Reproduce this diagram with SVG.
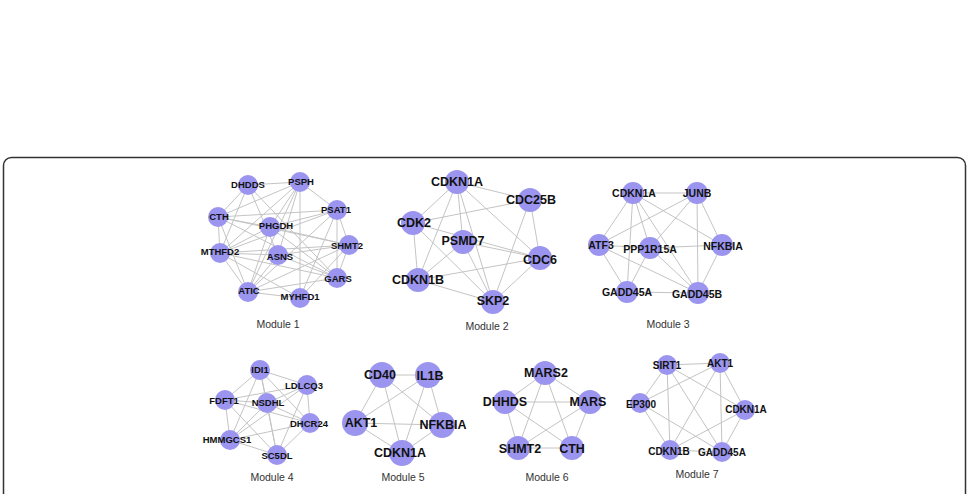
<svg xmlns="http://www.w3.org/2000/svg" width="977" height="494" viewBox="0 0 977 494">
<style>
.frame{fill:#fff;stroke:#333;stroke-width:1.5}
.e line{stroke:#c4c4c4;stroke-width:1}
.n circle{fill:#9b95f0}
.n text{font-family:"Liberation Sans",Arial,sans-serif;font-weight:bold;fill:#111;text-anchor:middle}
.m1 text,.m4 text{font-size:9.5px}
.m7 text{font-size:10px}
.m3 text{font-size:10.5px}
.m2 text,.m5 text,.m6 text{font-size:12.5px}
.lbl{font-family:"Liberation Sans",Arial,sans-serif;font-size:10.5px;fill:#333;text-anchor:middle}
</style>
<rect width="977" height="494" fill="#fff"/>
<rect class="frame" x="3.5" y="157.5" width="962" height="400" rx="8"/>
<g id="connectors" class="e">
<!-- Module 1 -->
<line x1="248" y1="185" x2="300" y2="182"/>
<line x1="248" y1="185" x2="218" y2="217"/>
<line x1="248" y1="185" x2="278" y2="255"/>
<line x1="248" y1="185" x2="337" y2="278"/>
<line x1="248" y1="185" x2="220" y2="253"/>
<line x1="300" y1="182" x2="218" y2="217"/>
<line x1="300" y1="182" x2="337" y2="210"/>
<line x1="300" y1="182" x2="270" y2="227"/>
<line x1="300" y1="182" x2="220" y2="253"/>
<line x1="300" y1="182" x2="248" y2="292"/>
<line x1="300" y1="182" x2="300" y2="298"/>
<line x1="300" y1="182" x2="278" y2="255"/>
<line x1="218" y1="217" x2="337" y2="210"/>
<line x1="218" y1="217" x2="349" y2="245"/>
<line x1="218" y1="217" x2="220" y2="253"/>
<line x1="218" y1="217" x2="337" y2="278"/>
<line x1="218" y1="217" x2="248" y2="292"/>
<line x1="218" y1="217" x2="270" y2="227"/>
<line x1="337" y1="210" x2="270" y2="227"/>
<line x1="337" y1="210" x2="220" y2="253"/>
<line x1="337" y1="210" x2="349" y2="245"/>
<line x1="337" y1="210" x2="337" y2="278"/>
<line x1="337" y1="210" x2="248" y2="292"/>
<line x1="337" y1="210" x2="300" y2="298"/>
<line x1="270" y1="227" x2="349" y2="245"/>
<line x1="270" y1="227" x2="337" y2="278"/>
<line x1="270" y1="227" x2="248" y2="292"/>
<line x1="270" y1="227" x2="220" y2="253"/>
<line x1="220" y1="253" x2="349" y2="245"/>
<line x1="220" y1="253" x2="337" y2="278"/>
<line x1="220" y1="253" x2="248" y2="292"/>
<line x1="220" y1="253" x2="300" y2="298"/>
<line x1="220" y1="253" x2="278" y2="255"/>
<line x1="278" y1="255" x2="349" y2="245"/>
<line x1="278" y1="255" x2="248" y2="292"/>
<line x1="278" y1="255" x2="337" y2="278"/>
<line x1="349" y1="245" x2="337" y2="278"/>
<line x1="349" y1="245" x2="248" y2="292"/>
<line x1="349" y1="245" x2="300" y2="298"/>
<line x1="248" y1="292" x2="300" y2="298"/>
<line x1="248" y1="292" x2="337" y2="278"/>
<!-- Module 2 -->
<line x1="457" y1="182" x2="530" y2="200"/>
<line x1="457" y1="182" x2="413" y2="223"/>
<line x1="457" y1="182" x2="418" y2="280"/>
<line x1="457" y1="182" x2="463" y2="242"/>
<line x1="457" y1="182" x2="493" y2="302"/>
<line x1="457" y1="182" x2="540" y2="258"/>
<line x1="530" y1="200" x2="413" y2="223"/>
<line x1="530" y1="200" x2="540" y2="258"/>
<line x1="530" y1="200" x2="493" y2="302"/>
<line x1="413" y1="223" x2="540" y2="258"/>
<line x1="413" y1="223" x2="418" y2="280"/>
<line x1="413" y1="223" x2="493" y2="302"/>
<line x1="463" y1="242" x2="540" y2="258"/>
<line x1="463" y1="242" x2="418" y2="280"/>
<line x1="463" y1="242" x2="493" y2="302"/>
<line x1="540" y1="258" x2="418" y2="280"/>
<line x1="540" y1="258" x2="493" y2="302"/>
<line x1="418" y1="280" x2="493" y2="302"/>
<!-- Module 3 -->
<line x1="633" y1="193" x2="697" y2="193"/>
<line x1="633" y1="193" x2="598" y2="245"/>
<line x1="633" y1="193" x2="650" y2="248"/>
<line x1="633" y1="193" x2="627" y2="292"/>
<line x1="633" y1="193" x2="698" y2="293"/>
<line x1="633" y1="193" x2="722" y2="245"/>
<line x1="697" y1="193" x2="598" y2="245"/>
<line x1="697" y1="193" x2="650" y2="248"/>
<line x1="697" y1="193" x2="722" y2="245"/>
<line x1="697" y1="193" x2="698" y2="293"/>
<line x1="598" y1="245" x2="650" y2="248"/>
<line x1="598" y1="245" x2="627" y2="292"/>
<line x1="598" y1="245" x2="698" y2="293"/>
<line x1="650" y1="248" x2="722" y2="245"/>
<line x1="650" y1="248" x2="627" y2="292"/>
<line x1="650" y1="248" x2="698" y2="293"/>
<line x1="722" y1="245" x2="698" y2="293"/>
<line x1="627" y1="292" x2="698" y2="293"/>
<!-- Module 4 -->
<line x1="260" y1="370" x2="307" y2="385"/>
<line x1="260" y1="370" x2="225" y2="400"/>
<line x1="260" y1="370" x2="267" y2="403"/>
<line x1="260" y1="370" x2="310" y2="423"/>
<line x1="260" y1="370" x2="230" y2="440"/>
<line x1="260" y1="370" x2="277" y2="455"/>
<line x1="307" y1="385" x2="225" y2="400"/>
<line x1="307" y1="385" x2="267" y2="403"/>
<line x1="307" y1="385" x2="230" y2="440"/>
<line x1="307" y1="385" x2="277" y2="455"/>
<line x1="307" y1="385" x2="310" y2="423"/>
<line x1="225" y1="400" x2="267" y2="403"/>
<line x1="225" y1="400" x2="310" y2="423"/>
<line x1="225" y1="400" x2="230" y2="440"/>
<line x1="225" y1="400" x2="277" y2="455"/>
<line x1="267" y1="403" x2="310" y2="423"/>
<line x1="267" y1="403" x2="230" y2="440"/>
<line x1="267" y1="403" x2="277" y2="455"/>
<line x1="310" y1="423" x2="230" y2="440"/>
<line x1="310" y1="423" x2="277" y2="455"/>
<line x1="230" y1="440" x2="277" y2="455"/>
<!-- Module 5 -->
<line x1="382" y1="375" x2="428" y2="375"/>
<line x1="382" y1="375" x2="355" y2="423"/>
<line x1="382" y1="375" x2="442" y2="425"/>
<line x1="382" y1="375" x2="402" y2="453"/>
<line x1="428" y1="375" x2="355" y2="423"/>
<line x1="428" y1="375" x2="442" y2="425"/>
<line x1="428" y1="375" x2="402" y2="453"/>
<line x1="355" y1="423" x2="442" y2="425"/>
<line x1="355" y1="423" x2="402" y2="453"/>
<line x1="442" y1="425" x2="402" y2="453"/>
<!-- Module 6 -->
<line x1="545" y1="373" x2="505" y2="402"/>
<line x1="545" y1="373" x2="590" y2="402"/>
<line x1="545" y1="373" x2="518" y2="448"/>
<line x1="545" y1="373" x2="572" y2="448"/>
<line x1="505" y1="402" x2="590" y2="402"/>
<line x1="505" y1="402" x2="518" y2="448"/>
<line x1="505" y1="402" x2="572" y2="448"/>
<line x1="590" y1="402" x2="518" y2="448"/>
<line x1="590" y1="402" x2="572" y2="448"/>
<line x1="518" y1="448" x2="572" y2="448"/>
<!-- Module 7 -->
<line x1="667" y1="365" x2="720" y2="363"/>
<line x1="667" y1="365" x2="745" y2="410"/>
<line x1="667" y1="365" x2="670" y2="450"/>
<line x1="667" y1="365" x2="722" y2="452"/>
<line x1="667" y1="365" x2="640" y2="403"/>
<line x1="720" y1="363" x2="640" y2="403"/>
<line x1="720" y1="363" x2="670" y2="450"/>
<line x1="720" y1="363" x2="722" y2="452"/>
<line x1="720" y1="363" x2="745" y2="410"/>
<line x1="640" y1="403" x2="670" y2="450"/>
<line x1="640" y1="403" x2="722" y2="452"/>
<line x1="745" y1="410" x2="670" y2="450"/>
<line x1="745" y1="410" x2="722" y2="452"/>
<line x1="670" y1="450" x2="722" y2="452"/>
</g>
<!-- Module 1 nodes -->
<g class="n m1">
<g id="m1-DHDDS"><circle cx="248" cy="185" r="10"/><text x="248" y="185" dy="0.35em">DHDDS</text></g>
<g id="m1-PSPH"><circle cx="300" cy="182" r="10"/><text x="301" y="182" dy="0.35em">PSPH</text></g>
<g id="m1-CTH"><circle cx="218" cy="217" r="10"/><text x="219" y="217" dy="0.35em">CTH</text></g>
<g id="m1-PSAT1"><circle cx="337" cy="210" r="10"/><text x="336" y="210" dy="0.35em">PSAT1</text></g>
<g id="m1-PHGDH"><circle cx="270" cy="227" r="10"/><text x="276" y="226" dy="0.35em">PHGDH</text></g>
<g id="m1-SHMT2"><circle cx="349" cy="245" r="10"/><text x="347" y="246" dy="0.35em">SHMT2</text></g>
<g id="m1-MTHFD2"><circle cx="220" cy="253" r="10"/><text x="220" y="252" dy="0.35em">MTHFD2</text></g>
<g id="m1-ASNS"><circle cx="278" cy="255" r="10"/><text x="280" y="257" dy="0.35em">ASNS</text></g>
<g id="m1-GARS"><circle cx="337" cy="278" r="10"/><text x="338" y="279" dy="0.35em">GARS</text></g>
<g id="m1-ATIC"><circle cx="248" cy="292" r="10"/><text x="249" y="291" dy="0.35em">ATIC</text></g>
<g id="m1-MYHFD1"><circle cx="300" cy="298" r="10"/><text x="300" y="297" dy="0.35em">MYHFD1</text></g>
</g>
<text class="lbl" x="278" y="328">Module 1</text>
<!-- Module 2 nodes -->
<g class="n m2">
<g id="m2-CDKN1A"><circle cx="457" cy="182" r="12"/><text x="457" y="182" dy="0.35em">CDKN1A</text></g>
<g id="m2-CDC25B"><circle cx="530" cy="200" r="12"/><text x="531" y="200" dy="0.35em">CDC25B</text></g>
<g id="m2-CDK2"><circle cx="413" cy="223" r="12"/><text x="414" y="223" dy="0.35em">CDK2</text></g>
<g id="m2-PSMD7"><circle cx="463" cy="242" r="12"/><text x="463" y="241" dy="0.35em">PSMD7</text></g>
<g id="m2-CDC6"><circle cx="540" cy="258" r="12"/><text x="540" y="260" dy="0.35em">CDC6</text></g>
<g id="m2-CDKN1B"><circle cx="418" cy="280" r="12"/><text x="418" y="280" dy="0.35em">CDKN1B</text></g>
<g id="m2-SKP2"><circle cx="493" cy="302" r="12"/><text x="493" y="301" dy="0.35em">SKP2</text></g>
</g>
<text class="lbl" x="487" y="330">Module 2</text>
<!-- Module 3 nodes -->
<g class="n m3">
<g id="m3-CDKN1A"><circle cx="633" cy="193" r="11"/><text x="634" y="193" dy="0.35em">CDKN1A</text></g>
<g id="m3-JUNB"><circle cx="697" cy="193" r="11"/><text x="697" y="193" dy="0.35em">JUNB</text></g>
<g id="m3-ATF3"><circle cx="599" cy="245" r="11"/><text x="601" y="245" dy="0.35em">ATF3</text></g>
<g id="m3-PPP1R15A"><circle cx="650" cy="248" r="11"/><text x="650" y="249" dy="0.35em">PPP1R15A</text></g>
<g id="m3-NFKBIA"><circle cx="722" cy="245" r="11"/><text x="723" y="246" dy="0.35em">NFKBIA</text></g>
<g id="m3-GADD45A"><circle cx="627" cy="292" r="11"/><text x="627" y="292" dy="0.35em">GADD45A</text></g>
<g id="m3-GADD45B"><circle cx="698" cy="293" r="11"/><text x="697" y="294" dy="0.35em">GADD45B</text></g>
</g>
<text class="lbl" x="668" y="328">Module 3</text>
<!-- Module 4 nodes -->
<g class="n m4">
<g id="m4-IDI1"><circle cx="260" cy="370" r="10"/><text x="260" y="370" dy="0.35em">IDI1</text></g>
<g id="m4-LDLCQ3"><circle cx="307" cy="385" r="10"/><text x="304" y="386" dy="0.35em">LDLCQ3</text></g>
<g id="m4-FDFT1"><circle cx="225" cy="400" r="10"/><text x="224" y="401" dy="0.35em">FDFT1</text></g>
<g id="m4-NSDHL"><circle cx="267" cy="403" r="10"/><text x="268" y="403" dy="0.35em">NSDHL</text></g>
<g id="m4-DHCR24"><circle cx="310" cy="423" r="10"/><text x="309" y="424" dy="0.35em">DHCR24</text></g>
<g id="m4-HMMGCS1"><circle cx="230" cy="440" r="10"/><text x="227" y="440" dy="0.35em">HMMGCS1</text></g>
<g id="m4-SC5DL"><circle cx="277" cy="455" r="10"/><text x="277" y="456" dy="0.35em">SC5DL</text></g>
</g>
<text class="lbl" x="272" y="481">Module 4</text>
<!-- Module 5 nodes -->
<g class="n m5">
<g id="m5-CD40"><circle cx="382" cy="375" r="13"/><text x="380" y="375" dy="0.35em">CD40</text></g>
<g id="m5-IL1B"><circle cx="428" cy="375" r="13"/><text x="430" y="376" dy="0.35em">IL1B</text></g>
<g id="m5-AKT1"><circle cx="355" cy="423" r="13"/><text x="361" y="423" dy="0.35em">AKT1</text></g>
<g id="m5-NFKBIA"><circle cx="442" cy="425" r="13"/><text x="443" y="425" dy="0.35em">NFKBIA</text></g>
<g id="m5-CDKN1A"><circle cx="402" cy="453" r="13"/><text x="400" y="453" dy="0.35em">CDKN1A</text></g>
</g>
<text class="lbl" x="403" y="481">Module 5</text>
<!-- Module 6 nodes -->
<g class="n m6">
<g id="m6-MARS2"><circle cx="545" cy="373" r="12"/><text x="546" y="373" dy="0.35em">MARS2</text></g>
<g id="m6-DHHDS"><circle cx="505" cy="402" r="12"/><text x="505" y="402" dy="0.35em">DHHDS</text></g>
<g id="m6-MARS"><circle cx="590" cy="402" r="12"/><text x="588" y="402" dy="0.35em">MARS</text></g>
<g id="m6-SHMT2"><circle cx="518" cy="448" r="12"/><text x="520" y="449" dy="0.35em">SHMT2</text></g>
<g id="m6-CTH"><circle cx="572" cy="448" r="12"/><text x="572" y="449" dy="0.35em">CTH</text></g>
</g>
<text class="lbl" x="547" y="481">Module 6</text>
<!-- Module 7 nodes -->
<g class="n m7">
<g id="m7-SIRT1"><circle cx="667" cy="365" r="10"/><text x="667" y="365" dy="0.35em">SIRT1</text></g>
<g id="m7-AKT1"><circle cx="720" cy="363" r="10"/><text x="720" y="363" dy="0.35em">AKT1</text></g>
<g id="m7-EP300"><circle cx="640" cy="403" r="10"/><text x="641" y="404" dy="0.35em">EP300</text></g>
<g id="m7-CDKN1A"><circle cx="745" cy="410" r="10"/><text x="746" y="409" dy="0.35em">CDKN1A</text></g>
<g id="m7-CDKN1B"><circle cx="670" cy="450" r="10"/><text x="669" y="451" dy="0.35em">CDKN1B</text></g>
<g id="m7-GADD45A"><circle cx="722" cy="452" r="10"/><text x="722" y="452" dy="0.35em">GADD45A</text></g>
</g>
<text class="lbl" x="697" y="478">Module 7</text>
</svg>
